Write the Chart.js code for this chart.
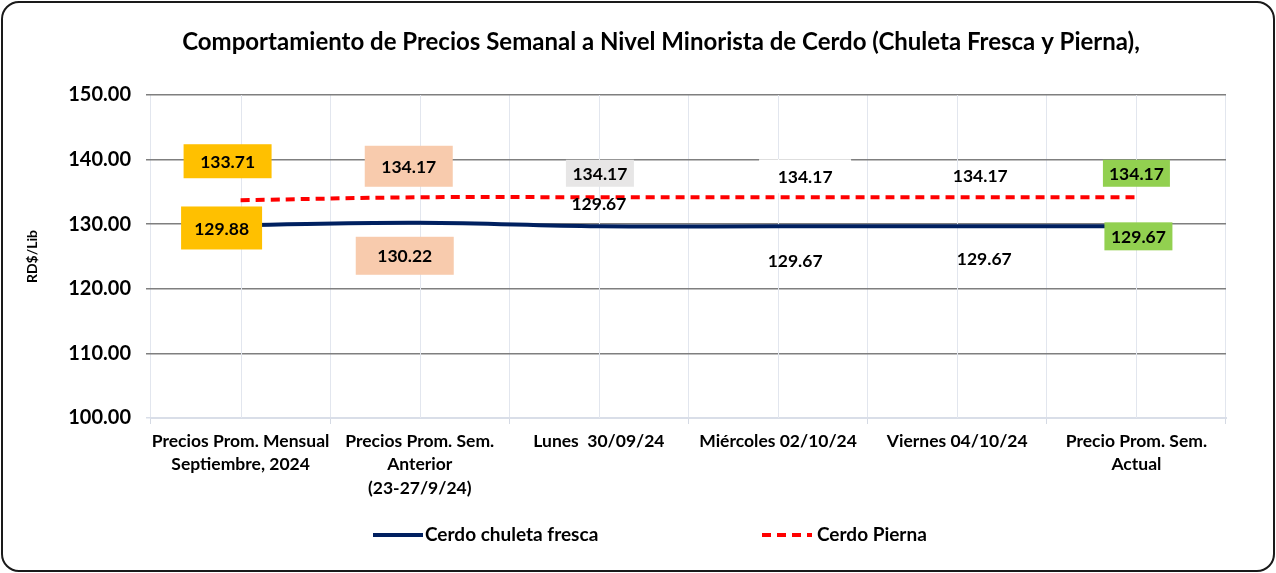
<!DOCTYPE html>
<html>
<head>
<meta charset="utf-8">
<script src="https://cdn.jsdelivr.net/npm/chart.js@4.4.1/dist/chart.umd.min.js"></script>
<style>
  html, body { margin: 0; padding: 0; background: #fff; }
  #wrap { position: relative; width: 1276px; height: 573px; overflow: hidden; }
  #frame { position: absolute; left: 1px; top: 1px; width: 1270px; height: 567px;
           border: 2px solid #1a1a1a; border-radius: 18px; pointer-events: none; }
</style>
</head>
<body>
<div id="wrap">
  <canvas id="c" width="1276" height="573"></canvas>
  <div id="frame"></div>
</div>
<script>
// ---- data ----
const categories = [
  ["Precios Prom. Mensual", "Septiembre, 2024"],
  ["Precios Prom. Sem.", "Anterior", "(23-27/9/24)"],
  "Lunes  30/09/24",
  "Miércoles 02/10/24",
  "Viernes 04/10/24",
  ["Precio Prom. Sem.", "Actual"]
];
const chuletaValues = [129.88, 130.22, 129.67, 129.67, 129.67, 129.67];
const piernaValues  = [133.71, 134.17, 134.17, 134.17, 134.17, 134.17];
const seriesNames = ["Cerdo chuleta fresca", "Cerdo Pierna"];
const titleText = "Comportamiento de Precios Semanal a Nivel Minorista de Cerdo (Chuleta Fresca y Pierna),";
const yAxisTitle = "RD$/Lib";
const yMin = 100, yMax = 150, yStep = 10;

// ---- styling for data labels (offsets relative to point, box sizes, backgrounds) ----
const labelStyles = [
  [ // chuleta
    {dx:-19, dy:3,  w:81, h:43, bg:"#FFC000"},
    {dx:-15, dy:33, w:98, h:38, bg:"#F8CBAD"},
    {dx:0,   dy:-23, w:0, h:0, bg:null},
    {dx:17,  dy:34, w:0, h:0, bg:null},
    {dx:27,  dy:32, w:0, h:0, bg:null},
    {dx:2,   dy:10, w:68, h:28, bg:"#92D050"}
  ],
  [ // pierna
    {dx:-13, dy:-39, w:88, h:34, bg:"#FFC000"},
    {dx:-11, dy:-31, w:88, h:41, bg:"#F8CBAD"},
    {dx:1,   dy:-24, w:68, h:27, bg:"#E7E6E6"},
    {dx:27,  dy:-21, w:92, h:34, bg:"#FFFFFF"},
    {dx:23,  dy:-22, w:0, h:0, bg:null},
    {dx:0,   dy:-24, w:67, h:27, bg:"#92D050"}
  ]
];

const FONT = "Lato, 'Open Sans', sans-serif";

const centerGridPlugin = {
  id: 'centerGrid',
  beforeDatasetsDraw(chart) {
    const {ctx, chartArea, scales} = chart;
    const x = scales.x;
    ctx.save();
    ctx.strokeStyle = '#e2e6ee';
    ctx.lineWidth = 1;
    for (let i = 0; i < categories.length; i++) {
      const px = Math.round(x.getPixelForValue(i)) + 0.5;
      ctx.beginPath();
      ctx.moveTo(px, chartArea.top);
      ctx.lineTo(px, chartArea.bottom);
      ctx.stroke();
    }
    ctx.restore();
  }
};

const labelPlugin = {
  id: 'valueLabels',
  afterDatasetsDraw(chart) {
    const ctx = chart.ctx;
    ctx.save();
    ctx.font = "bold 17.5px " + FONT;
    ctx.textAlign = 'center';
    ctx.textBaseline = 'middle';
    chart.data.datasets.forEach((ds, di) => {
      const meta = chart.getDatasetMeta(di);
      meta.data.forEach((pt, j) => {
        const st = labelStyles[di][j];
        const cx = pt.x + st.dx, cy = pt.y + st.dy;
        if (st.bg) {
          ctx.fillStyle = st.bg;
          ctx.fillRect(cx - st.w / 2, cy - st.h / 2, st.w, st.h);
        }
        ctx.fillStyle = '#000';
        ctx.fillText(ds.data[j].toFixed(2), cx, cy + 1);
      });
    });
    ctx.restore();
  }
};

const titleLegendPlugin = {
  id: 'titleLegend',
  afterDraw(chart) {
    const ctx = chart.ctx;
    ctx.save();
    ctx.fillStyle = '#000';
    ctx.textBaseline = 'middle';
    ctx.textAlign = 'center';
    ctx.font = "bold 24px " + FONT;
    ctx.fillText(titleText, 661, 42);
    // legend
    const ly = 535;
    const items = [{x: 373, tx: 425}, {x: 762, tx: 817}];
    chart.data.datasets.forEach((ds, i) => {
      const it = items[i];
      ctx.strokeStyle = ds.borderColor;
      ctx.lineWidth = ds.borderWidth;
      ctx.setLineDash(ds.borderDash || []);
      ctx.beginPath();
      ctx.moveTo(it.x, ly);
      ctx.lineTo(it.x + 50, ly);
      ctx.stroke();
      ctx.setLineDash([]);
      ctx.font = "bold 19px " + FONT;
      ctx.textAlign = 'left';
      ctx.fillText(ds.label, it.tx, ly);
    });
    ctx.restore();
  }
};

new Chart(document.getElementById('c'), {
  type: 'line',
  data: {
    labels: categories,
    datasets: [
      {
        label: seriesNames[0],
        data: chuletaValues,
        borderColor: '#002060',
        borderWidth: 4,
        tension: 0.4,
        pointRadius: 0,
        fill: false
      },
      {
        label: seriesNames[1],
        data: piernaValues,
        borderColor: '#FF0000',
        borderWidth: 4,
        borderDash: [9, 6],
        tension: 0.4,
        pointRadius: 0,
        fill: false
      }
    ]
  },
  options: {
    responsive: false,
    animation: false,
    layout: { padding: { left: 19, right: 50, top: 95, bottom: 0 } },
    plugins: {
      legend: { display: false },
      title: { display: false },
      tooltip: { enabled: false }
    },
    scales: {
      x: {
        offset: true,
        grid: { offset: true, color: '#e2e6ee', lineWidth: 1, tickLength: 6, drawTicks: true, tickColor: '#d5dae4' },
        border: { display: true, color: '#d9dee8', width: 2 },
        ticks: {
          color: '#000',
          font: { family: FONT, weight: 'bold', size: 17.5, lineHeight: 1.36 },
          maxRotation: 0, autoSkip: false, padding: 5
        },
        afterFit(scale) { scale.height = 155; }
      },
      y: {
        min: yMin, max: yMax,
        ticks: {
          stepSize: yStep,
          color: '#000',
          font: { family: FONT, weight: 'bold', size: 20 },
          padding: 15,
          callback: v => Number(v).toFixed(2)
        },
        grid: {
          color: ctx => (ctx.tick && ctx.tick.value === yMin) ? '#d9dee8' : '#7f7f7f',
          lineWidth: 1.5,
          tickLength: 5
        },
        border: { display: false },
        title: {
          display: true, text: yAxisTitle, color: '#000',
          font: { family: FONT, weight: 'bold', size: 14 },
          padding: { top: 5, bottom: 0 }
        },
        afterFit(scale) { scale.width = 132; }
      }
    }
  },
  plugins: [centerGridPlugin, labelPlugin, titleLegendPlugin]
});
</script>
</body>
</html>
